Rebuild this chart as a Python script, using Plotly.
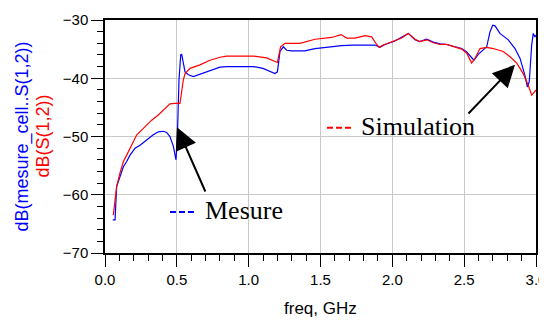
import plotly.graph_objects as go

# Measured curve (blue)
blue_f = [0.054, 0.07, 0.081, 0.104, 0.128, 0.151, 0.174, 0.209, 0.244, 0.29, 0.336, 0.371, 0.406, 0.429,
          0.452, 0.476, 0.494, 0.503, 0.515, 0.527, 0.534, 0.557, 0.58, 0.615, 0.661, 0.731, 0.80, 0.847,
          0.917, 1.032, 1.10, 1.16, 1.183, 1.2, 1.218, 1.241, 1.265, 1.30, 1.357, 1.39, 1.462, 1.554, 1.647,
          1.728, 1.879, 1.914, 1.949, 2.018, 2.111, 2.158, 2.19, 2.239, 2.285, 2.332, 2.378, 2.424, 2.483,
          2.518, 2.568, 2.598, 2.633, 2.657, 2.68, 2.699, 2.715, 2.749, 2.807, 2.854, 2.889, 2.923, 2.94,
          2.953, 2.97, 2.981, 2.993, 3.0]
blue_db = [-64.3, -64.3, -58.6, -57.1, -55.2, -54.3, -53.2, -52.0, -51.5, -50.6, -49.7, -49.2, -49.1, -49.3,
           -50.0, -51.7, -54.0, -50.6, -40.3, -36.0, -35.9, -38.9, -39.4, -39.7, -39.3, -38.8, -38.1, -38.0,
           -38.0, -38.0, -38.3, -38.9, -39.2, -38.9, -35.4, -34.6, -35.2, -35.3, -35.3, -35.3, -34.9, -34.6, -34.4,
           -34.3, -34.3, -34.7, -34.2, -33.6, -32.3, -33.4, -33.7, -33.3, -33.8, -34.1, -34.2, -34.5, -34.9,
           -35.5, -36.9, -35.9, -35.2, -34.6, -32.0, -30.9, -31.0, -32.3, -33.4, -34.9, -36.6, -39.5, -41.5,
           -40.6, -34.3, -32.3, -32.9, -32.6]

# Simulated curve (red)
red_f = [0.058, 0.081, 0.104, 0.128, 0.151, 0.186, 0.221, 0.267, 0.325, 0.371, 0.418, 0.452, 0.487, 0.522,
         0.545, 0.557, 0.592, 0.661, 0.731, 0.80, 0.847, 1.032, 1.125, 1.17, 1.2, 1.222, 1.253, 1.357, 1.462,
         1.578, 1.643, 1.682, 1.74, 1.81, 1.856, 1.891, 1.909, 1.937, 1.995, 2.065, 2.111, 2.158, 2.19, 2.239,
         2.285, 2.332, 2.378, 2.424, 2.483, 2.518, 2.552, 2.575, 2.61, 2.657, 2.703, 2.772, 2.819, 2.866,
         2.911, 2.946, 2.97, 2.988, 3.0]
red_db = [-63.5, -58.6, -56.3, -54.3, -53.2, -51.5, -49.7, -48.6, -47.2, -46.3, -45.2, -44.4, -44.3, -44.3,
          -40.3, -39.2, -38.3, -37.7, -36.9, -36.4, -36.2, -36.2, -36.5, -36.9, -37.3, -34.6, -34.0, -34.0, -33.3,
          -33.0, -32.5, -33.1, -33.1, -32.7, -32.9, -34.2, -34.7, -34.3, -33.7, -33.1, -32.3, -33.3, -33.7, -33.4,
          -33.9, -34.2, -34.2, -34.6, -35.0, -35.7, -37.4, -36.6, -34.9, -34.7, -34.9, -35.4, -36.3, -37.4,
          -39.2, -41.2, -42.9, -42.4, -42.0]

x_ticks = [0.0, 0.5, 1.0, 1.5, 2.0, 2.5, 3.0]
x_ticklabels = ["0.0", "0.5", "1.0", "1.5", "2.0", "2.5", "3.0"]
y_ticks = [-70, -60, -50, -40, -30]

SANS = "Liberation Sans, Arial, sans-serif"
SERIF = "Liberation Serif, Times New Roman, serif"

fig = go.Figure()
fig.add_trace(go.Scatter(x=blue_f, y=blue_db, mode="lines", line=dict(color="#0000ff", width=1.2),
                         name="Mesure", showlegend=False))
fig.add_trace(go.Scatter(x=red_f, y=red_db, mode="lines", line=dict(color="#ff0000", width=1.2),
                         name="Simulation", showlegend=False))

axis_common = dict(showline=True, linecolor="black", linewidth=1.5, mirror=True, automargin=False,
                   showgrid=True, gridcolor="#c8c8c8", gridwidth=1, zeroline=False,
                   ticks="outside", tickcolor="black", tickwidth=1.2, ticklen=12,
                   tickfont=dict(family=SANS, size=15, color="black"))

fig.update_xaxes(range=[0, 3], tickvals=x_ticks, ticktext=x_ticklabels,
                 minor=dict(dtick=0.1, ticks="outside", ticklen=6, tickcolor="black", tickwidth=1, showgrid=False),
                 **axis_common)
fig.update_yaxes(range=[-70, -30], tickvals=y_ticks,
                 minor=dict(dtick=2, ticks="outside", ticklen=6, tickcolor="black", tickwidth=1, showgrid=False),
                 **axis_common)

annotations = [
    # y-axis titles
    dict(xref="paper", yref="paper", x=(22 - 105) / 431, y=0.5, text="dB(mesure_cell..S(1,2))",
         textangle=-90, showarrow=False, xanchor="center", yanchor="middle",
         font=dict(family=SANS, size=18, color="#0000ff")),
    dict(xref="paper", yref="paper", x=(42 - 105) / 431, y=0.5, text="dB(S(1,2))",
         textangle=-90, showarrow=False, xanchor="center", yanchor="middle",
         font=dict(family=SANS, size=18, color="#ff0000")),
    # x-axis title
    dict(xref="paper", yref="paper", x=0.5, y=(253 - 308) / 233, text="freq, GHz", showarrow=False,
         xanchor="center", yanchor="middle", font=dict(family=SANS, size=17, color="black")),
    # labels
    dict(x=0.682, y=-62.7, text="Mesure", showarrow=False, xanchor="left", yanchor="middle",
         font=dict(family=SERIF, size=26, color="black")),
    dict(x=1.768, y=-48.2, text="Simulation", showarrow=False, xanchor="left", yanchor="middle",
         font=dict(family=SERIF, size=26, color="black")),
    # arrows
    dict(x=0.501, y=-48.4, ax=0.703, ay=-59.7, axref="x", ayref="y", text="", showarrow=True,
         arrowhead=2, arrowsize=2.2, arrowwidth=2, arrowcolor="black"),
    dict(x=2.854, y=-37.7, ax=2.52, ay=-46.3, axref="x", ayref="y", text="", showarrow=True,
         arrowhead=2, arrowsize=2.2, arrowwidth=2, arrowcolor="black"),
]

shapes = [
    dict(type="line", x0=0.452, x1=0.626, y0=-62.96, y1=-62.96, line=dict(color="#0000ff", width=2, dash="6px,3px")),
    dict(type="line", x0=1.545, x1=1.719, y0=-48.5, y1=-48.5, line=dict(color="#ff0000", width=2, dash="6px,3px")),
]

# page body has an 8px margin: figure is 539x312 so it fills the 547x320 window
fig.update_layout(width=539, height=312, margin=dict(l=97, r=11, t=12, b=67),
                  paper_bgcolor="white", plot_bgcolor="white",
                  annotations=annotations, shapes=shapes, showlegend=False)

fig.write_html("out.html")
